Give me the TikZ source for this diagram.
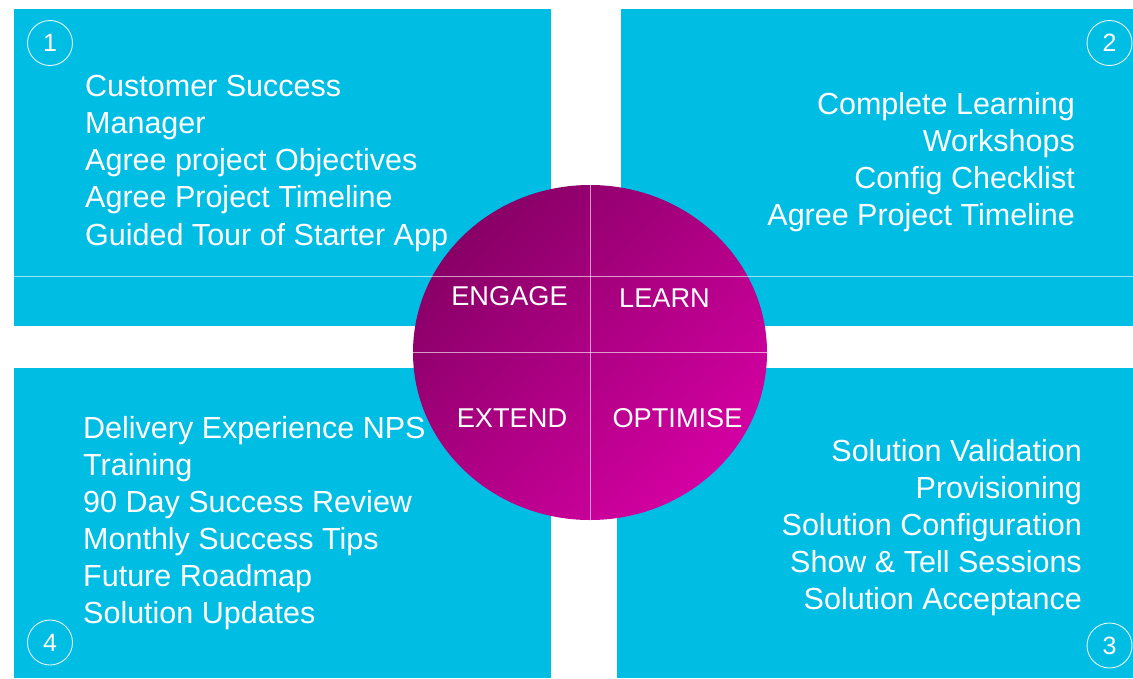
\documentclass[tikz,border=0pt]{standalone}
\usepackage{fontspec}
\setmainfont{Liberation Sans}
\usetikzlibrary{shapes.geometric}
\definecolor{panelcyan}{RGB}{0,189,228}
\definecolor{wheeldark}{RGB}{136,0,102}
\definecolor{wheelbright}{RGB}{212,0,162}
\tikzset{
  panel/.style={fill=panelcyan, draw=none},
  item/.style={text=white, inner sep=0pt, font=\fontsize{30.5}{36}\selectfont},
  seglabel/.style={text=white, inner sep=0pt, font=\fontsize{27.2}{30}\selectfont, anchor=base},
  numc/.style={circle, draw=white, draw opacity=0.9, line width=0.9pt, text=white, inner sep=0pt,
               minimum width=45pt, font=\fontsize{25}{28}\selectfont},
  thinline/.style={draw=white, draw opacity=0.6, line width=0.9pt}
}
\begin{document}
\begin{tikzpicture}[x=1pt,y=-1pt]
\useasboundingbox[fill=white] (0,0) rectangle (1133,678);
% panels
\fill[panel] (14,9) rectangle (551,326);
\fill[panel] (621,9) rectangle (1133,326);
\fill[panel] (14,368) rectangle (551,678);
\fill[panel] (617,368) rectangle (1133,678);
% number circles
\node[numc] (n1) at (50,43) {1};
\node[numc] (n2) at (1109.5,43) {2};
\node[numc] (n4) at (50,642.5) {4};
\node[numc] (n3) at (1109.5,645.5) {3};
% panel 1 text
\foreach \t [count=\i] in {Customer Success, Manager, Agree project Objectives, Agree Project Timeline, Guided Tour of Starter App}
  \node[item, anchor=base west] (pa\i) at (85,{96+37.25*(\i-1)}) {\t};
% panel 2 text
\foreach \t [count=\i] in {Complete Learning, Workshops, Config Checklist, Agree Project Timeline}
  \node[item, anchor=base east] (pb\i) at (1075,{114+37.3*(\i-1)}) {\t};
% panel 3 text
\foreach \t [count=\i] in {Solution Validation, Provisioning, Solution Configuration, Show \& Tell Sessions, Solution Acceptance}
  \node[item, anchor=base east] (pc\i) at (1082,{461+37*(\i-1)}) {\t};
% panel 4 text
\foreach \t [count=\i] in {Delivery Experience NPS, Training, 90 Day Success Review, Monthly Success Tips, Future Roadmap, Solution Updates}
  \node[item, anchor=base west] (pd\i) at (83,{438+37*(\i-1)}) {\t};
% wheel
\node[ellipse, minimum width=354pt, minimum height=335pt, inner sep=0pt,
      left color=wheeldark, right color=wheelbright, shading angle=45] (wheel) at (590,352.5) {};
% thin lines
\draw[thinline] (14,276) -- (1133,276);
\draw[thinline] (wheel.north) -- (wheel.south);
\draw[thinline] (wheel.west) -- (wheel.east);
% segment labels
\node[seglabel] (engage) at (509.5,305) {ENGAGE};
\node[seglabel] (learn) at (664.5,307) {LEARN};
\node[seglabel] (extend) at (512,427) {EXTEND};
\node[seglabel] (optimise) at (677.5,427) {OPTIMISE};
\end{tikzpicture}
\end{document}
